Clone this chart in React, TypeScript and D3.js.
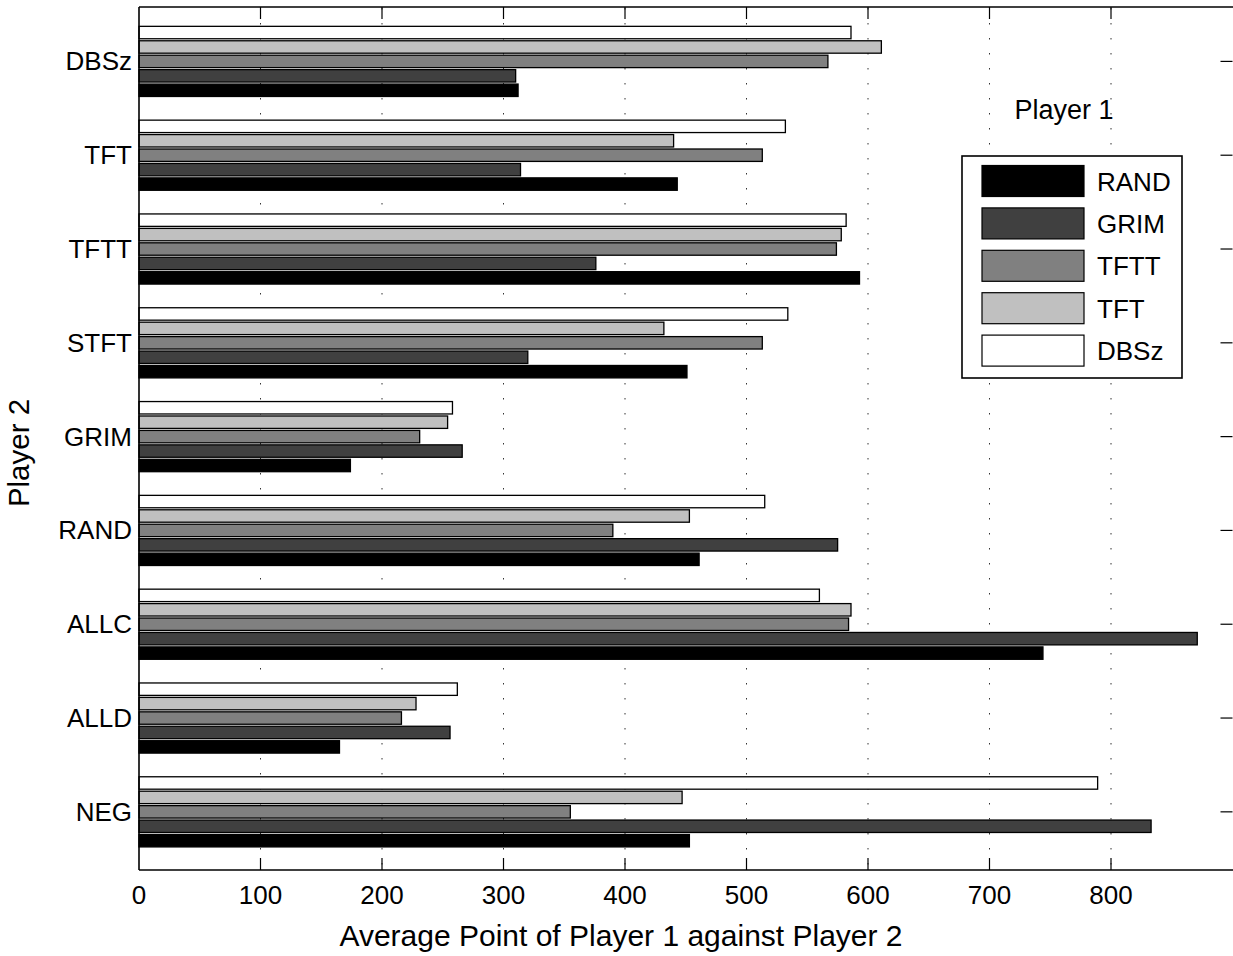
import React from 'react';
import * as d3 from 'd3';

// Player 2 opponents, top to bottom
const categories = ["DBSz", "TFT", "TFTT", "STFT", "GRIM", "RAND", "ALLC", "ALLD", "NEG"];

// Player 1 strategies (series), bottom bar of each group first
const seriesNames = ["RAND", "GRIM", "TFTT", "TFT", "DBSz"];
const seriesColors = ["#000000", "#404040", "#808080", "#c0c0c0", "#ffffff"];

const randVals = [312, 443, 593, 451, 174, 461, 744, 165, 453];
const grimVals = [310, 314, 376, 320, 266, 575, 871, 256, 833];
const tfttVals = [567, 513, 574, 513, 231, 390, 584, 216, 355];
const tftVals = [611, 440, 578, 432, 254, 453, 586, 228, 447];
const dbszVals = [586, 532, 582, 534, 258, 515, 560, 262, 789];

const seriesValues = [randVals, grimVals, tfttVals, tftVals, dbszVals];

const xTicks = [0, 100, 200, 300, 400, 500, 600, 700, 800];

const W = 1233;
const H = 956;
const left = 139;
const right = 1232.5;
const top = 7;
const bottom = 870;
const font = "'Liberation Sans', Arial, Helvetica, sans-serif";

export default function App() {
  const x = d3.scaleLinear().domain([0, 900]).range([left, right]);
  // categories sit at positions 9..1 (top to bottom), MATLAB-like limits
  const y = d3.scaleLinear().domain([0.38, 9.58]).range([bottom, top]);
  const pos = (i: number) => categories.length - i;

  const step = Math.abs(y(1) - y(2));
  const n = seriesNames.length;
  const groupWidth = Math.min(0.8, n / (n + 1.5));
  const slot = (groupWidth * step) / n;
  const barH = slot * 0.86;

  const tickLen = 12;

  const legend = { x: 962, y: 156, w: 220, h: 222 };
  const swX = legend.x + 20;
  const swW = 102;
  const swH = 31;
  const rowStep = 42.4;
  const firstRow = legend.y + 25;

  return (
    <svg width={W} height={H} style={{ position: 'absolute', left: 0, top: 0, background: '#fff' }} fontFamily={font}>
      <rect x={0} y={0} width={W} height={H} fill="#fff" />

      {/* dotted vertical grid */}
      {xTicks.filter(t => t > 0).map(t => (
        <line key={"g" + t} x1={x(t)} x2={x(t)} y1={top} y2={bottom}
          stroke="#333" strokeWidth={1} strokeDasharray="1.5 13.5" strokeDashoffset={-1} />
      ))}

      {/* bars */}
      {categories.map((c, i) => (
        <g key={c}>
          {seriesValues.map((vals, j) => {
            const cy = y(pos(i)) - (j - (n - 1) / 2) * slot;
            return (
              <rect key={j} x={x(0)} y={cy - barH / 2} width={x(vals[i]) - x(0)} height={barH}
                fill={seriesColors[j]} stroke="#000" strokeWidth={1.3} />
            );
          })}
        </g>
      ))}

      {/* axes frame */}
      <line x1={left} x2={W + 2} y1={top} y2={top} stroke="#000" strokeWidth={1.6} />
      <line x1={left} x2={W + 2} y1={bottom} y2={bottom} stroke="#000" strokeWidth={1.6} />
      <line x1={left} x2={left} y1={top} y2={bottom} stroke="#000" strokeWidth={1.6} />

      {/* x ticks top & bottom */}
      {xTicks.filter(t => t > 0).map(t => (
        <g key={"xt" + t}>
          <line x1={x(t)} x2={x(t)} y1={bottom} y2={bottom - tickLen} stroke="#000" strokeWidth={1.2} />
          <line x1={x(t)} x2={x(t)} y1={top} y2={top + tickLen} stroke="#000" strokeWidth={1.2} />
        </g>
      ))}
      {xTicks.map(t => (
        <text key={"xl" + t} x={x(t)} y={904} textAnchor="middle" fontSize={26} fill="#000">{t}</text>
      ))}

      {/* y ticks (right side) & labels */}
      {categories.map((c, i) => (
        <g key={"yt" + c}>
          <line x1={right} x2={right - tickLen} y1={y(pos(i))} y2={y(pos(i))} stroke="#000" strokeWidth={1.2} />
          <text x={left - 7} y={y(pos(i)) + 9} textAnchor="end" fontSize={26} fill="#000">{c}</text>
        </g>
      ))}

      {/* axis titles */}
      <text x={621} y={946} textAnchor="middle" fontSize={30} fill="#000">
        Average Point of Player 1 against Player 2
      </text>
      <text transform={`translate(29,${453}) rotate(-90)`} textAnchor="middle" fontSize={29.5} fill="#000">Player 2</text>

      {/* legend */}
      <text x={(legend.x + legend.x + legend.w) / 2 - 8} y={119} textAnchor="middle" fontSize={27} fill="#000">Player 1</text>
      <rect x={legend.x} y={legend.y} width={legend.w} height={legend.h} fill="#fff" stroke="#000" strokeWidth={1.6} />
      {seriesNames.map((s, j) => {
        const cy = firstRow + j * rowStep;
        return (
          <g key={"lg" + s}>
            <rect x={swX} y={cy - swH / 2} width={swW} height={swH} fill={seriesColors[j]} stroke="#000" strokeWidth={1.2} />
            <text x={legend.x + 135} y={cy + 9.5} fontSize={26} fill="#000">{s}</text>
          </g>
        );
      })}
    </svg>
  );
}
